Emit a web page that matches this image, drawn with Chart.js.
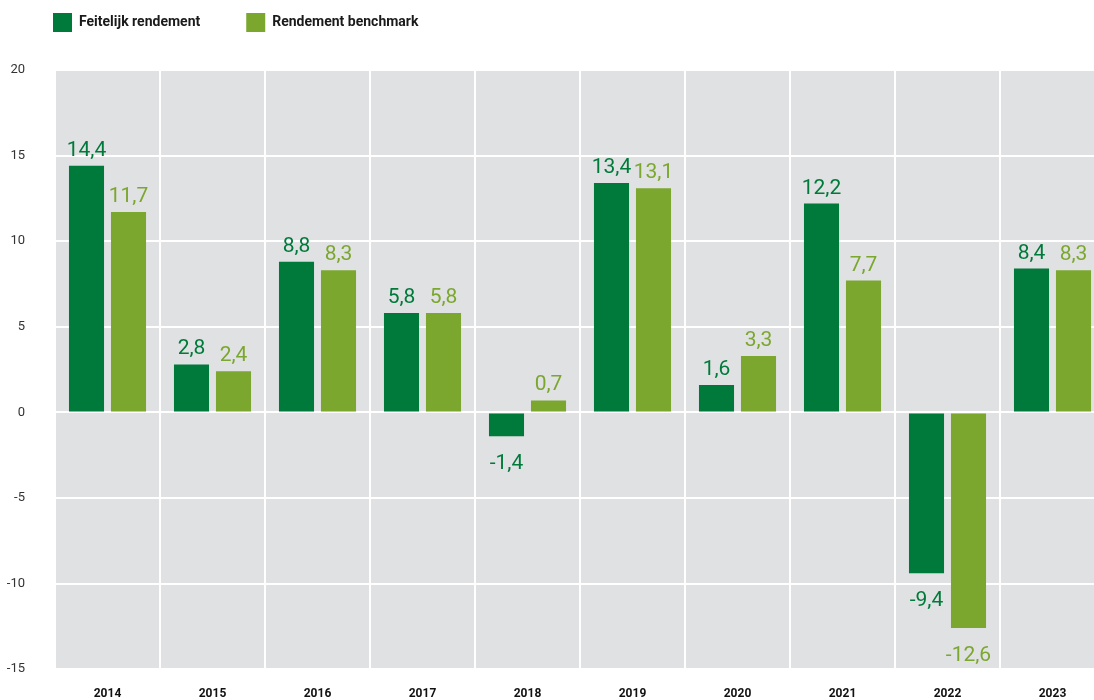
<!DOCTYPE html>
<html>
<head>
<meta charset="utf-8">
<script src="https://cdn.jsdelivr.net/npm/chart.js@4"></script>
<style>
  html, body { margin: 0; padding: 0; background: #fff; overflow: hidden; }
  #wrap { width: 1105px; height: 707px; }
</style>
</head>
<body>
<div id="wrap"><canvas id="rendementChart" width="1105" height="707"></canvas></div>
<script>
// jaren en rendementen (%)
const years = ["2014","2015","2016","2017","2018","2019","2020","2021","2022","2023"];
const feitelijk = [14.4, 2.8, 8.8, 5.8, -1.4, 13.4, 1.6, 12.2, -9.4, 8.4];
const benchmark = [11.7, 2.4, 8.3, 5.8, 0.7, 13.1, 3.3, 7.7, -12.6, 8.3];
const yTicks = [-15, -10, -5, 0, 5, 10, 15, 20];

const DARK = "#007a3a";
const LIGHT = "#7ba72e";
const PLOT_BG = "#e0e1e3";

// grijze achtergrond van het plotgebied
const plotBackground = {
  id: "plotBackground",
  beforeDraw(chart){
    const a = chart.chartArea;
    const ctx = chart.ctx;
    ctx.save();
    ctx.fillStyle = PLOT_BG;
    ctx.fillRect(a.left, a.top, a.right - a.left, a.bottom - a.top);
    ctx.restore();
  }
};

// waardes boven / onder de staven
const valueLabels = {
  id: "valueLabels",
  afterDatasetsDraw(chart){
    const ctx = chart.ctx;
    ctx.save();
    ctx.font = "21px Roboto, 'DejaVu Sans', sans-serif";
    ctx.textAlign = "center";
    ctx.textBaseline = "alphabetic";
    chart.data.datasets.forEach((ds, di) => {
      const meta = chart.getDatasetMeta(di);
      ctx.fillStyle = ds.backgroundColor;
      meta.data.forEach((bar, i) => {
        const v = ds.data[i];
        const txt = v.toFixed(1).replace(".", ",");
        const y = v >= 0 ? bar.y - 10 : bar.y + 33;
        ctx.fillText(txt, bar.x, y);
      });
    });
    ctx.restore();
  }
};

const chart = new Chart(document.getElementById("rendementChart").getContext("2d"), {
  type: "bar",
  data: {
    labels: years,
    datasets: [
      { label: "Feitelijk rendement", data: feitelijk, backgroundColor: DARK, borderWidth: 0 },
      { label: "Rendement benchmark", data: benchmark, backgroundColor: LIGHT, borderWidth: 0 }
    ]
  },
  options: {
    responsive: false,
    animation: false,
    categoryPercentage: 0.8,
    barPercentage: 0.835,
    layout: { padding: { top: -33, left: 7, right: 0, bottom: -18 } },
    plugins: {
      legend: {
        position: "top",
        align: "start",
        labels: {
          boxWidth: 19,
          boxHeight: 19,
          padding: 46,
          color: "#1a1a1a",
          font: { family: "Roboto, 'Liberation Sans', sans-serif", size: 14, weight: "bold" }
        }
      },
      subtitle: {
        display: true,
        text: "",
        weight: 500,
        padding: 0,
        font: { size: 28, lineHeight: 1 }
      },
      tooltip: { enabled: false }
    },
    scales: {
      x: {
        offset: true,
        grid: { offset: true, color: "#ffffff", lineWidth: 2, drawTicks: false },
        border: { display: false },
        ticks: {
          padding: 18,
          color: "#111111",
          font: { family: "Roboto, 'Liberation Sans', sans-serif", size: 12, weight: "bold" }
        }
      },
      y: {
        min: -15,
        max: 20,
        afterBuildTicks(scale){ scale.ticks = yTicks.map(v => ({ value: v })); },
        afterFit(scale){ scale.width = 48; },
        grid: { color: "#ffffff", lineWidth: 2, drawTicks: false },
        border: { display: false },
        ticks: {
          padding: 30,
          color: "#333333",
          font: { family: "Roboto, 'Liberation Sans', sans-serif", size: 13 }
        }
      }
    }
  },
  plugins: [plotBackground, valueLabels]
});
</script>
</body>
</html>
